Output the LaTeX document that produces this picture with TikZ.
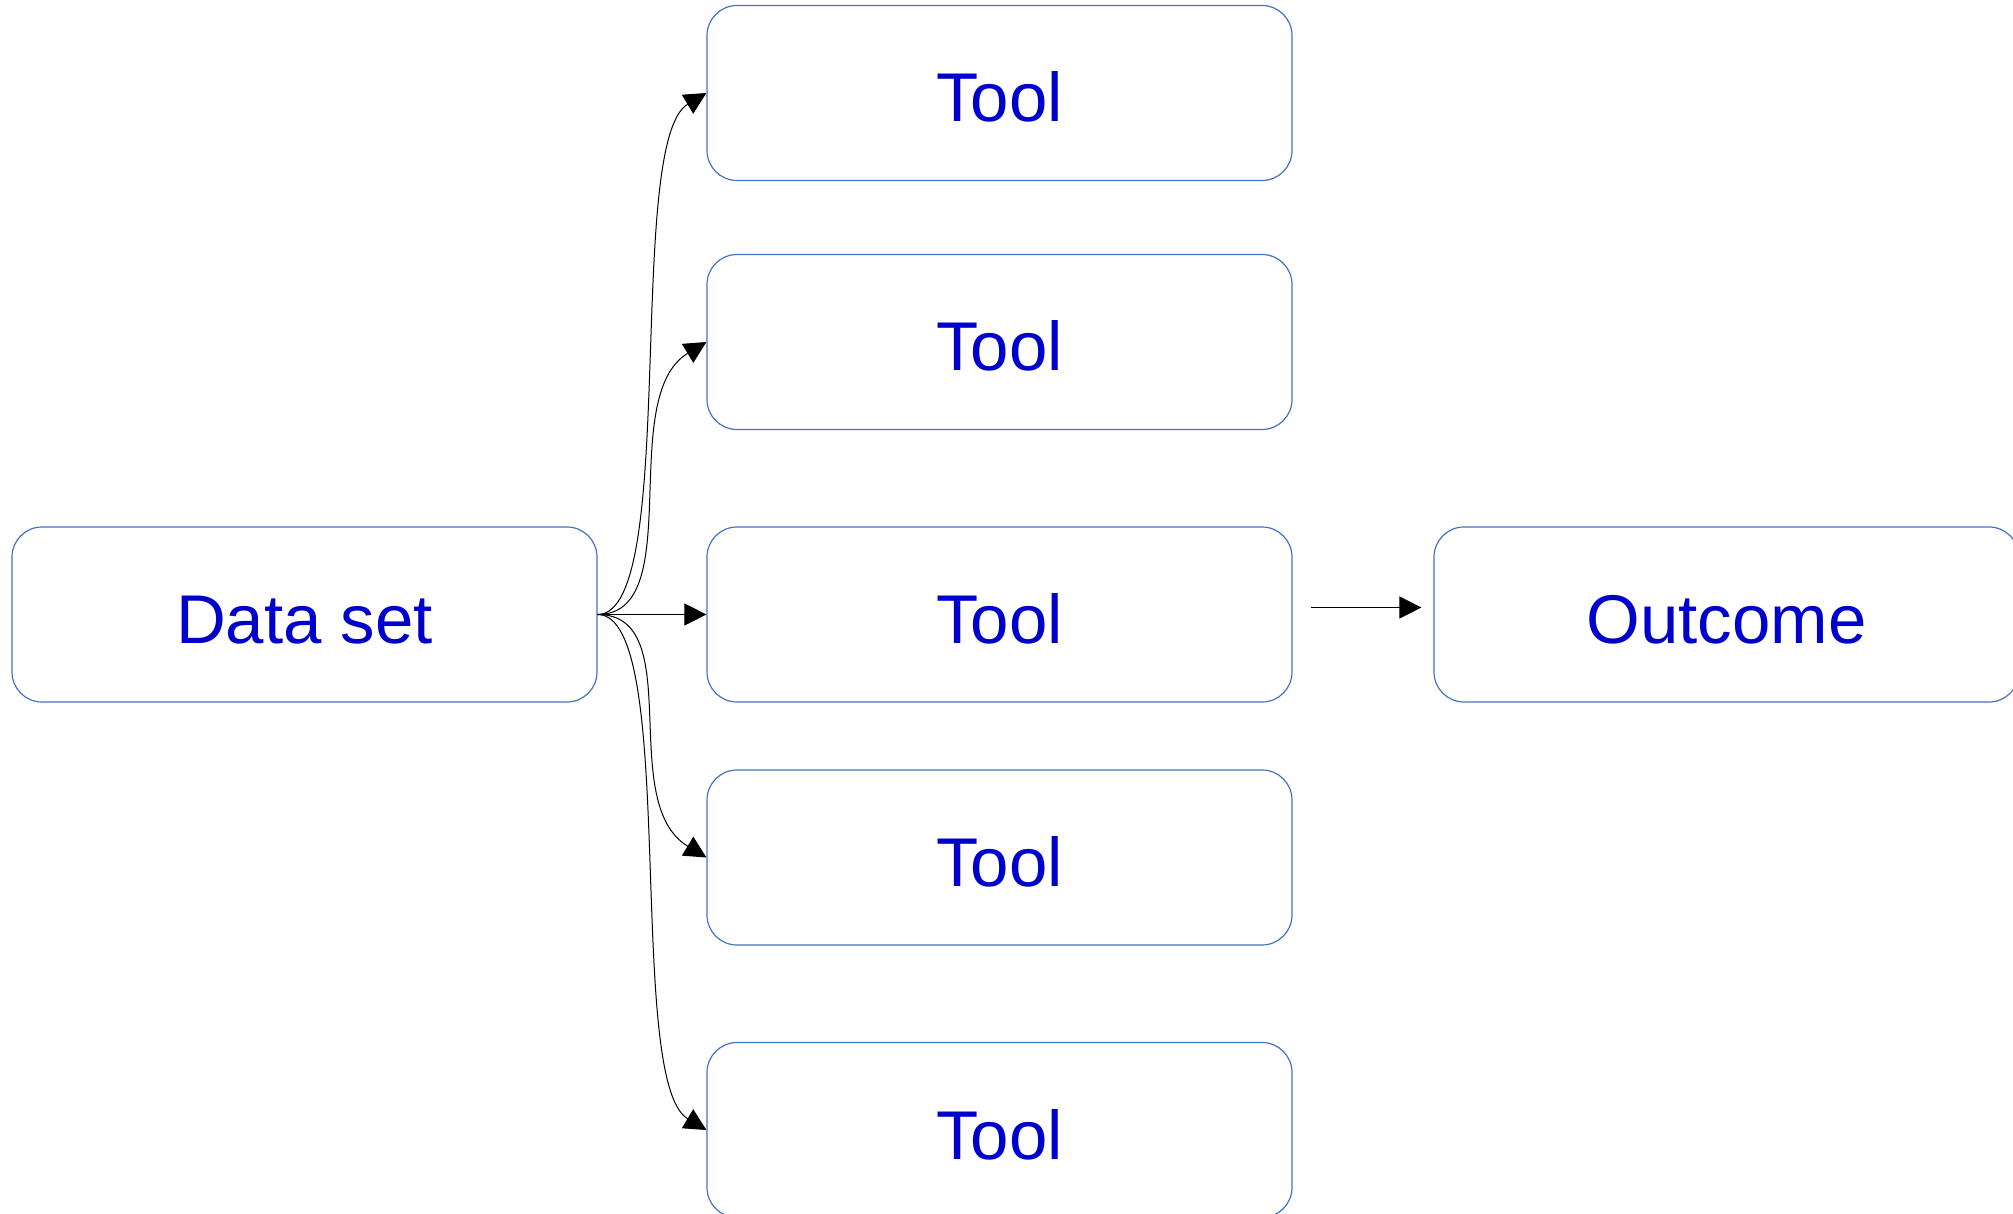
\documentclass[tikz,border=0pt]{standalone}
\usepackage{fontspec}
\setmainfont{Liberation Sans}
\usetikzlibrary{arrows.meta,calc}
\definecolor{boxblue}{RGB}{68,114,196}
\definecolor{textblue}{RGB}{0,0,204}
\begin{document}
\begin{tikzpicture}[x=1pt,y=-1pt,
  box/.style={draw=boxblue,line width=1.2pt,rounded corners=30pt,
    minimum width=585pt,minimum height=175pt,inner sep=0pt,
    text height=58pt,text depth=0pt,
    text=textblue,font=\fontsize{69}{80}\selectfont},
  link/.style={draw=black,line width=1pt,-{Triangle[length=22pt,width=22pt]}}]
\useasboundingbox (0,0) rectangle (2013,1214);
% source
\node[box] (data) at (304.5,614.5) {Data set};
% tools
\node[box] (t1) at (999.5,93)    {Tool};
\node[box] (t2) at (999.5,342)   {Tool};
\node[box] (t3) at (999.5,614.5) {Tool};
\node[box] (t4) at (999.5,857.5) {Tool};
\node[box] (t5) at (999.5,1130)  {Tool};
% result
\node[box] (out) at (1726.5,614.5) {Outcome};
% fan-out from the data set
\draw[link] (data.east) .. controls +(82,0) and +(-82,49) .. (t1.west);
\draw[link] (data.east) .. controls +(91,0) and +(-91,55) .. (t2.west);
\draw[link] (data.east) -- (t3.west);
\draw[link] (data.east) .. controls +(91,0) and +(-91,-55) .. (t4.west);
\draw[link] (data.east) .. controls +(82,0) and +(-82,-49) .. (t5.west);
% tool to outcome
\draw[link,shorten <=18pt,shorten >=12pt] ([yshift=7pt]t3.east) -- ([yshift=7pt]out.west);
\end{tikzpicture}
\end{document}
